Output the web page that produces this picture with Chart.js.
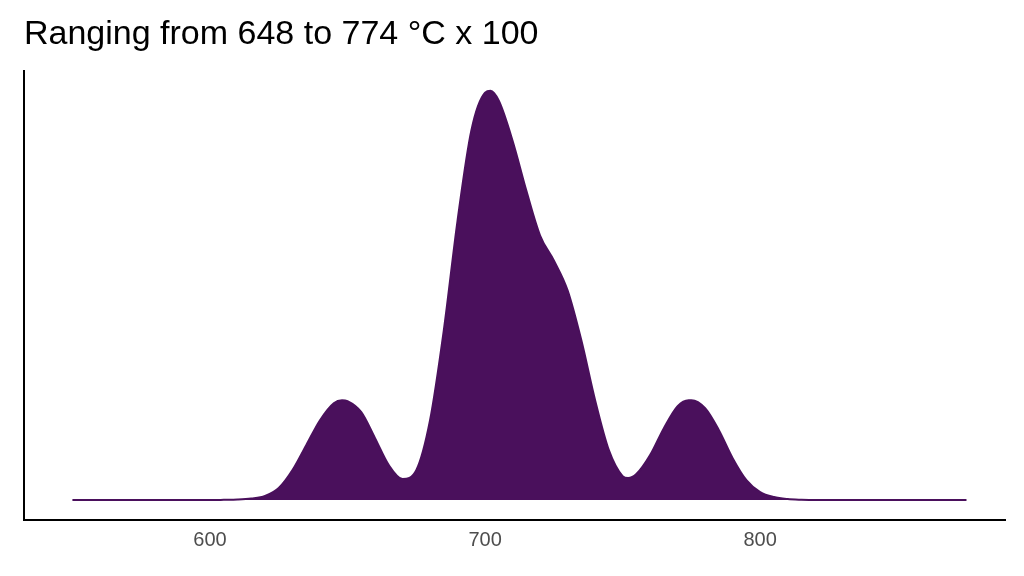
<!DOCTYPE html>
<html><head><meta charset="utf-8">
<script src="https://cdn.jsdelivr.net/npm/chart.js@4"></script>
<style>html,body{margin:0;background:#fff}#w{width:1024px;height:576px}</style>
</head><body><div id="w"><canvas id="c"></canvas></div>
<script>
const titleText = 'Ranging from 648 to 774 °C x 100';
const temps = [550,560,570,580,590,600,605,610,615,620,625,630,635,640,645,648,650,655,660,665,670,675,680,685,690,695,700,702,705,710,715,720,725,730,735,740,745,750,752,755,760,765,770,774,775,780,785,790,795,800,805,810,815,820,830,840,850,860,875];
const density = [0,0,0,0,0,0,0.2,0.5,1.5,4,12,30,55,80,97,100,99,88,62,35,21,30,80,170,280,370,408,410,400,360,310,265,240,210,160,100,50,24,22,26,45,72,94,100,100,92,70,42,20,8,3,1,0.3,0,0,0,0,0,0];
const xTicks = [600,700,800];
new Chart(document.getElementById('c'), {
  type: 'line',
  data: { datasets: [{
    data: temps.map((t,i)=>({x:t,y:density[i]})),
    borderColor:'#4a105c', backgroundColor:'#4a105c', borderWidth:2,
    fill:'origin', pointRadius:0, cubicInterpolationMode:'monotone'
  }]},
  options: {
    responsive:true, maintainAspectRatio:false, animation:false,
    layout:{padding:{left:24,right:19,top:0,bottom:22}},
    plugins:{legend:{display:false},tooltip:{enabled:false},
      title:{display:true,text:titleText,align:'start',color:'#000',
        font:{family:'Liberation Sans',size:34,weight:'normal'},padding:{top:14,bottom:16}}},
    scales:{
      x:{type:'linear',min:532.4,max:889,
        afterBuildTicks:a=>{a.ticks=xTicks.map(v=>({value:v}));},
        grid:{display:false,drawTicks:true,tickLength:6,tickColor:'#333'},
        border:{color:'#000',width:2},
        ticks:{color:'#4d4d4d',font:{family:'Liberation Sans',size:20},padding:2}},
      y:{min:-20,max:430,ticks:{display:false},grid:{display:false,drawTicks:false},
        border:{color:'#000',width:2}}
    }
  }
});
</script></body></html>
